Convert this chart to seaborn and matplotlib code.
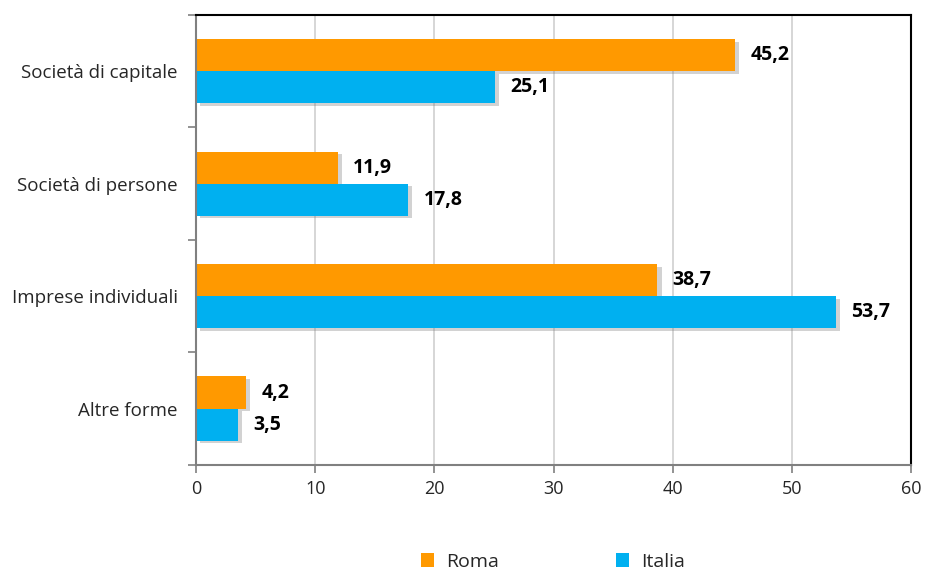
import matplotlib
matplotlib.use("Agg")
import matplotlib.pyplot as plt
import matplotlib.patheffects as pe
from matplotlib.patches import Patch
import seaborn as sns
import pandas as pd

categories = ["Società di capitale", "Società di persone", "Imprese individuali", "Altre forme"]
roma = [45.2, 11.9, 38.7, 4.2]
italia = [25.1, 17.8, 53.7, 3.5]
series = ["Roma", "Italia"]
colors = ["#FF9900", "#00B0F0"]

df = pd.DataFrame({
    "cat": categories * 2,
    "val": roma + italia,
    "serie": ["Roma"] * 4 + ["Italia"] * 4,
})

sns.set_theme(style="white")
plt.rcParams["font.family"] = ["Open Sans", "DejaVu Sans"]

fig = plt.figure(figsize=(9.29, 5.71), dpi=100)
ax = fig.add_axes([0.211, 0.186, 0.770, 0.788])

sns.barplot(data=df, y="cat", x="val", hue="serie", order=categories,
            hue_order=series, palette=colors, width=0.57, orient="y",
            ax=ax, legend=False, saturation=1, errorbar=None)

for p in ax.patches:
    p.set_path_effects([pe.SimplePatchShadow(offset=(3, -2), alpha=0.35, shadow_rgbFace="#808080"), pe.Normal()])
    p.set_edgecolor("none")

for cont in ax.containers:
    ax.bar_label(cont, labels=[f"{v:.1f}".replace(".", ",") for v in cont.datavalues],
                 padding=11, fontsize=14, fontweight="bold", color="black")

ax.set_xlim(0, 60)
ax.set_ylim(3.5, -0.5)
ax.set_xticks(range(0, 61, 10))
ax.xaxis.grid(True, color="#D0D0D0", linewidth=1.2)
ax.set_axisbelow(True)
ax.set_xlabel("")
ax.set_ylabel("")

ax.set_yticks(range(4))
ax.set_yticklabels(categories, fontsize=13.5)
ax.set_yticks([-0.5, 0.5, 1.5, 2.5, 3.5], minor=True)
ax.tick_params(axis="y", which="major", length=0, pad=13)
ax.tick_params(axis="y", which="minor", length=6, color="#808080", width=1.2, left=True)
ax.tick_params(axis="x", length=6, color="#808080", width=1.2, bottom=True, labelsize=13, pad=5)

for s in ["left", "bottom"]:
    ax.spines[s].set_color("#808080")
    ax.spines[s].set_linewidth(1.5)
for s in ["top", "right"]:
    ax.spines[s].set_color("black")
    ax.spines[s].set_linewidth(1.5)

handles = [Patch(facecolor=c, edgecolor="none", label=s) for s, c in zip(series, colors)]
fig.legend(handles=handles, loc="center", bbox_to_anchor=(0.595, 0.016), ncol=2,
           frameon=False, fontsize=14, handlelength=0.7, handleheight=0.7,
           columnspacing=6.0, handletextpad=0.6)

fig.savefig("out.png", dpi=100)
